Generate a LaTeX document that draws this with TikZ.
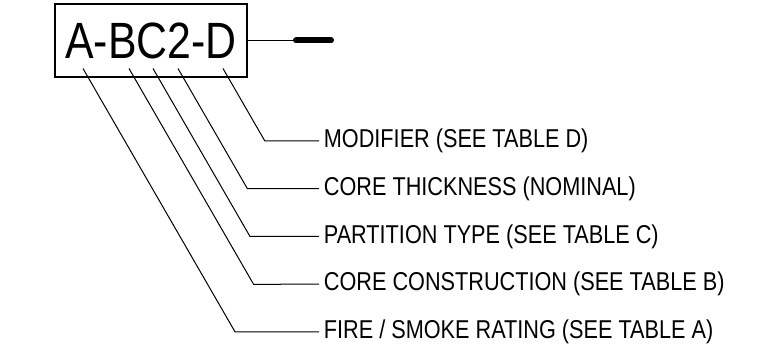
\documentclass[tikz,border=0pt]{standalone}
\usepackage{fontspec}
\setmainfont[FakeStretch=0.84]{Liberation Sans}
\usepackage{tikz}
\usetikzlibrary{positioning}

\begin{document}
\begin{tikzpicture}[x=1pt, y=1pt, node distance={47.75pt}, line width=1pt,
    main/.style = {draw, rectangle, line width=1.2pt, minimum width=192pt, minimum height=73pt, inner sep=0pt, font=\fontsize{51}{52}\selectfont},
    txt/.style = {inner sep=4.4pt, anchor=west, font=\fontsize{25.8}{28}\selectfont}]
            \useasboundingbox (0,0) rectangle (760,361);
            \node[main] (0) at (151,320.5) {A-BC2-D};
            \coordinate (d1) at (296,320.5);
            \coordinate (d2) at (331,320.5);
            \draw (0.east) -- (d1);
            \draw[line width=6pt, line cap=round] (d1) -- (d2);
            % letters of the code
            \coordinate (s1) at (223,292.5);
            \coordinate (s2) at (178,292.5);
            \coordinate (s3) at (153,292.5);
            \coordinate (s4) at (129,292.5);
            \coordinate (s5) at (83,292.5);
            \node[txt] (1) at (319,220) {MODIFIER (SEE TABLE D)};
            \node[txt] (2) [below=of 1.west, anchor=west] {CORE THICKNESS (NOMINAL)};
            \node[txt] (3) [below=of 2.west, anchor=west] {PARTITION TYPE (SEE TABLE C)};
            \node[txt] (4) [below=of 3.west, anchor=west] {CORE CONSTRUCTION (SEE TABLE B)};
            \node[txt] (5) [below=of 4.west, anchor=west] {FIRE / SMOKE RATING (SEE TABLE A)};
            \draw (s1) -- ++(-60:83.72) -- (1.west);
            \draw (s2) -- ++(-60:138.85) -- (2.west);
            \draw (s3) -- ++(-60:193.99) -- (3.west);
            \draw (s4) -- ++(-60:249.13) -- (4.west);
            \draw (s5) -- ++(-60:304.26) -- (5.west);
            \end{tikzpicture}
\end{document}
